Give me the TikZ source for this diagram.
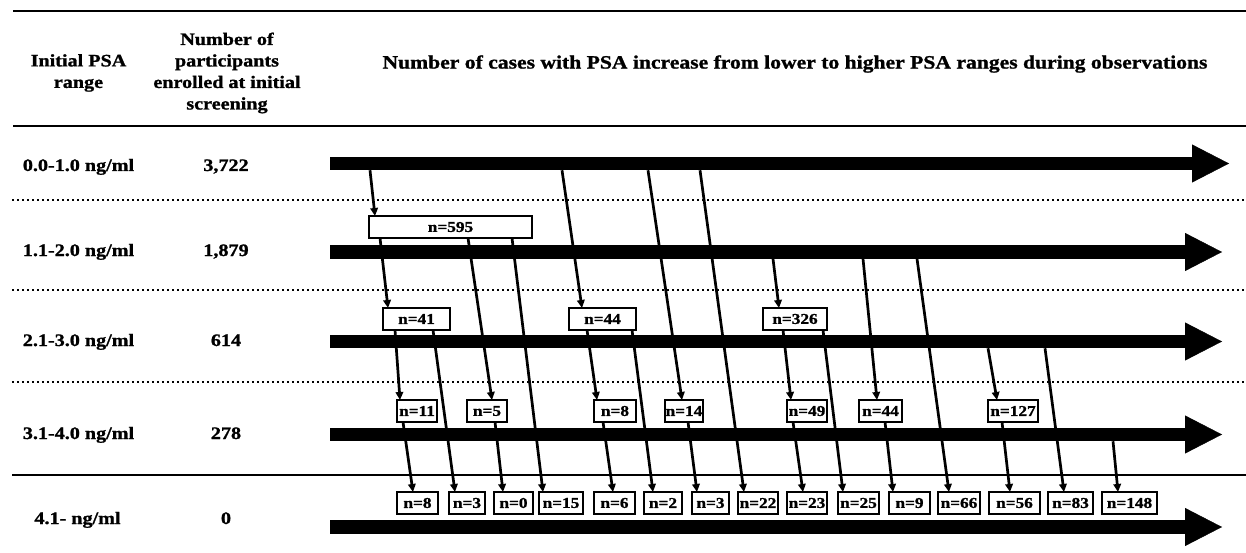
\documentclass[tikz,border=0pt]{standalone}
\usepackage{fontspec}
\setmainfont{Liberation Serif}[FakeStretch=1.15, BoldFeatures={FakeBold=1.2}]
\usetikzlibrary{arrows.meta,positioning}

\begin{document}
\begin{tikzpicture}[
  x=1pt, y=-1pt,
  hdr/.style={align=center, font=\fontsize{17.5}{21.5}\selectfont\bfseries},
  rowlab/.style={anchor=base, font=\fontsize{17.5}{21}\selectfont\bfseries},
  shaft/.style={fill=black, anchor=west, inner sep=0pt, outer sep=0pt, minimum height=13.5pt},
  head/.style={line width=0.4pt, -{Triangle[length=37pt,width=38pt]}},
  nbox/.style={draw, fill=white, line width=2pt, inner sep=0pt, outer sep=0pt, minimum height=22pt, font=\fontsize{15}{15}\selectfont\bfseries},
  link/.style={line width=2.7pt, -{Triangle[length=8pt,width=7.5pt]}},
  rule/.style={line width=2.8pt},
  dots/.style={line width=2.2pt, dash pattern=on 2pt off 3pt}
]
\useasboundingbox (0,0) rectangle (1246,553);

\draw[rule] (13,11) -- (1246,11);
\draw[rule] (13,126) -- (1246,126);
\draw[dots] (12,200) -- (1246,200);
\draw[dots] (12,290) -- (1246,290);
\draw[dots] (12,382) -- (1246,382);
\draw[line width=2.2pt] (12,475) -- (1246,475);

\node[hdr] (hrange) at (78.5,73) {Initial PSA\\range};
\node[hdr] (hcount) at (227,73) {Number of\\participants\\enrolled at initial\\screening};
\node[hdr, font=\fontsize{18.8}{21.5}\selectfont\bfseries] (hcases) at (795,64) {Number of cases with PSA increase from lower to higher PSA ranges during observations};

\node[rowlab] (r1) at (78.5,171) {0.0-1.0 ng/ml};
\node[rowlab] (c1) at (226,171) {3,722};
\node[rowlab] (r2) at (78.5,256) {1.1-2.0 ng/ml};
\node[rowlab] (c2) at (226,256) {1,879};
\node[rowlab] (r3) at (78.5,346) {2.1-3.0 ng/ml};
\node[rowlab] (c3) at (226,346) {614};
\node[rowlab] (r4) at (78.5,439) {3.1-4.0 ng/ml};
\node[rowlab] (c4) at (226,439) {278};
\node[rowlab] (r5) at (77.5,524) {4.1- ng/ml};
\node[rowlab] (c5) at (226,524) {0};

\node[shaft, minimum width=862pt] (bar1) at (330,163.5) {};
\draw[head] (bar1.east) -- ++(37,0);
\node[shaft, minimum width=855pt] (bar2) at (330,252) {};
\draw[head] (bar2.east) -- ++(37,0);
\node[shaft, minimum width=855pt] (bar3) at (330,341.5) {};
\draw[head] (bar3.east) -- ++(37,0);
\node[shaft, minimum width=855pt] (bar4) at (330,434.5) {};
\draw[head] (bar4.east) -- ++(37,0);
\node[shaft, minimum width=855pt] (bar5) at (330,527) {};
\draw[head] (bar5.east) -- ++(37,0);

\node[nbox, minimum width=163pt] (n595) at (450.5,227) {n=595};

\node[nbox, minimum width=67pt] (n41) at (416.5,319) {n=41};
\node[nbox, minimum width=67pt] (n44a) at (602.5,319) {n=44};
\node[nbox, minimum width=64pt] (n326) at (795,319) {n=326};

\node[nbox, minimum width=40pt] (n11) at (417,411) {n=11};
\node[nbox, minimum width=40pt] (n5) at (487,411) {n=5};
\node[nbox, minimum width=42pt] (n8a) at (615,411) {n=8};
\node[nbox, minimum width=38pt] (n14) at (684,411) {n=14};
\node[nbox, minimum width=40pt] (n49) at (807,411) {n=49};
\node[nbox, minimum width=43pt] (n44b) at (880.5,411) {n=44};
\node[nbox, minimum width=50pt] (n127) at (1013,411) {n=127};

\node[nbox, minimum width=41pt] (n8b) at (417.5,503) {n=8};
\node[nbox, minimum width=36pt, right=11pt of n8b] (n3a) {n=3};
\node[nbox, minimum width=39pt, right=9pt of n3a] (n0) {n=0};
\node[nbox, minimum width=44pt, right=6pt of n0] (n15) {n=15};
\node[nbox, minimum width=41pt, right=11pt of n15] (n6) {n=6};
\node[nbox, minimum width=38pt, right=9pt of n6] (n2) {n=2};
\node[nbox, minimum width=37pt, right=10pt of n2] (n3b) {n=3};
\node[nbox, minimum width=40pt, right=9pt of n3b] (n22) {n=22};
\node[nbox, minimum width=40pt, right=9pt of n22] (n23) {n=23};
\node[nbox, minimum width=41pt, right=11pt of n23] (n25) {n=25};
\node[nbox, minimum width=41pt, right=10pt of n25] (n9) {n=9};
\node[nbox, minimum width=42pt, right=8pt of n9] (n66) {n=66};
\node[nbox, minimum width=51pt, right=9pt of n66] (n56) {n=56};
\node[nbox, minimum width=45pt, right=8pt of n56] (n83) {n=83};
\node[nbox, minimum width=55pt, right=9pt of n83] (n148) {n=148};

\draw[link] ([xshift=40]bar1.south west) -- ([xshift=6]n595.north west);
\draw[link] ([xshift=232]bar1.south west) -- ([xshift=13]n44a.north west);
\draw[link] ([xshift=318]bar1.south west) -- ([xshift=17]n14.north west);
\draw[link] ([xshift=370]bar1.south west) -- ([xshift=6]n22.north west);

\draw[link] ([xshift=11]n595.south west) -- ([xshift=5]n41.north west);
\draw[link] ([xshift=99]n595.south west) -- ([xshift=25]n5.north west);
\draw[link] ([xshift=143]n595.south west) -- ([xshift=4]n15.north west);

\draw[link] ([xshift=443]bar2.south west) -- ([xshift=16]n326.north west);
\draw[link] ([xshift=533]bar2.south west) -- ([xshift=18]n44b.north west);
\draw[link] ([xshift=587]bar2.south west) -- ([xshift=11]n66.north west);

\draw[link] ([xshift=12]n41.south west) -- ([xshift=3]n11.north west);
\draw[link] ([xshift=50]n41.south west) -- ([xshift=6]n3a.north west);
\draw[link] ([xshift=18]n44a.south west) -- ([xshift=3]n8a.north west);
\draw[link] ([xshift=63]n44a.south west) -- ([xshift=9]n2.north west);
\draw[link] ([xshift=20]n326.south west) -- ([xshift=4]n49.north west);
\draw[link] ([xshift=60]n326.south west) -- ([xshift=5]n25.north west);

\draw[link] ([xshift=658]bar3.south west) -- ([xshift=9]n127.north west);
\draw[link] ([xshift=715]bar3.south west) -- ([xshift=16]n83.north west);

\draw[link] ([xshift=6]n11.south west) -- ([xshift=16]n8b.north west);
\draw[link] ([xshift=28]n5.south west) -- ([xshift=9]n0.north west);
\draw[link] ([xshift=9]n8a.south west) -- ([xshift=19]n6.north west);
\draw[link] ([xshift=23]n14.south west) -- ([xshift=5]n3b.north west);
\draw[link] ([xshift=6]n49.south west) -- ([xshift=16]n23.north west);
\draw[link] ([xshift=26]n44b.south west) -- ([xshift=4]n9.north west);
\draw[link] ([xshift=14]n127.south west) -- ([xshift=21]n56.north west);

\draw[link] ([xshift=783]bar4.south west) -- ([xshift=16]n148.north west);

\end{tikzpicture}
\end{document}
